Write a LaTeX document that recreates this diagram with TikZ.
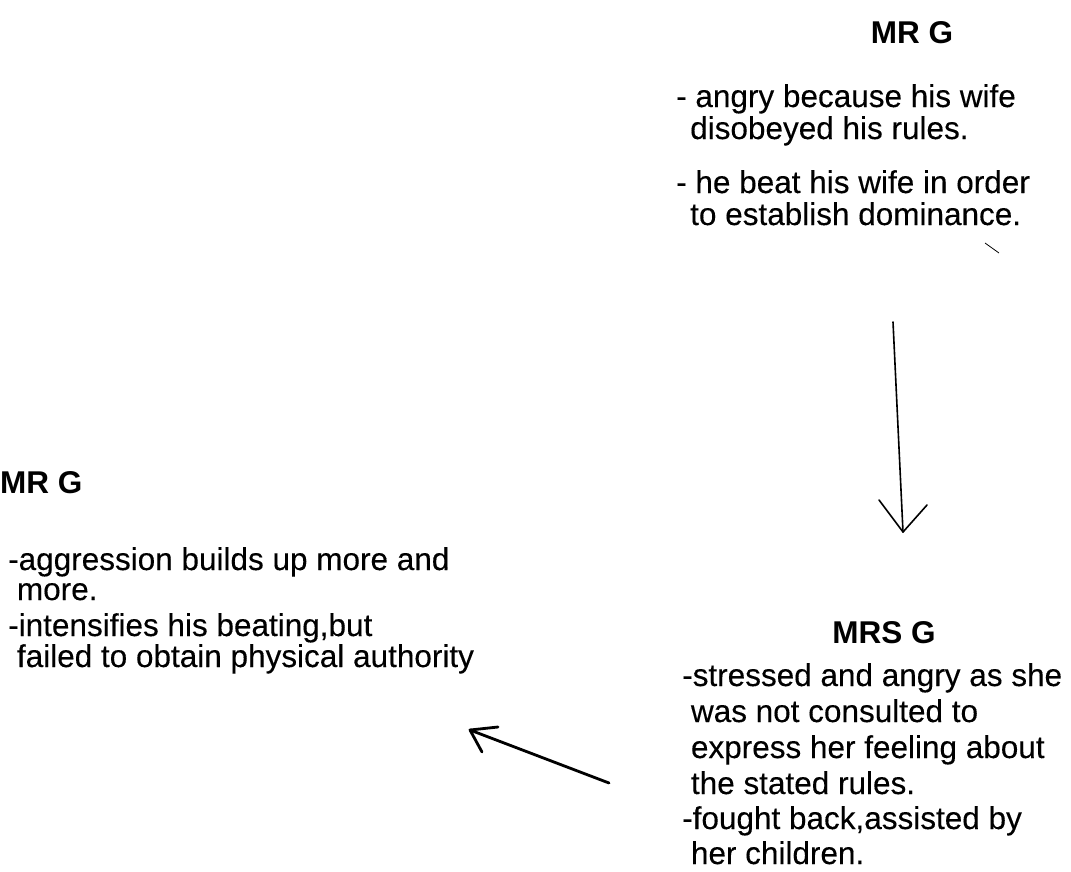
\documentclass[tikz,border=0pt]{standalone}
\usepackage{fontspec}
\setmainfont{Liberation Sans}[FakeBold=0.25]
\newfontfamily\ttlfont{Liberation Sans Bold}
\begin{document}
\begin{tikzpicture}[x=1pt,y=-1pt,
  txt/.style={anchor=base west,inner sep=0pt,font=\fontsize{31.5}{36}\selectfont},
  ttl/.style={anchor=base,inner sep=0pt,font=\fontsize{31.5}{36}\ttlfont},
  pen/.style={line width=1.6pt,line cap=round,line join=round},
  thickpen/.style={line width=2.8pt,line cap=round,line join=round}]
\useasboundingbox (0,0) rectangle (1071,871);
% top block
\node[ttl] (t0) at (912,43) {MR G};
\node[txt] (t1) at (676,107) {- angry because his wife};
\node[txt] (t2) at (676,139) {\ \,disobeyed his rules.};
\node[txt] (t3) at (676,193) {- he beat his wife in order};
\node[txt] (t4) at (676,225) {\ \,to establish dominance.};
% MRS G block
\node[ttl] (m0) at (884,643) {MRS G};
\node[txt] (m1) at (682,686) {-stressed and angry as she};
\node[txt] (m2) at (682,722) {\ was not consulted to};
\node[txt] (m3) at (682,758) {\ express her feeling about};
\node[txt] (m4) at (682,794) {\ the stated rules.};
\node[txt] (m5) at (682,829) {-fought back,assisted by};
\node[txt] (m6) at (682,864) {\ her children.};
% left block
\node[ttl,anchor=base west] (l0) at (0,493) {MR G};
\node[txt] (l1) at (8,570) {-aggression builds up more and};
\node[txt] (l2) at (8,600) {\ more.};
\node[txt] (l3) at (8,636) {-intensifies his beating,but};
\node[txt] (l4) at (8,667) {\ failed to obtain physical authority};
% arrows
\coordinate (a1s) at (893,322);
\coordinate (a1t) at (903,532);
\coordinate (a1l) at (879,500);
\coordinate (a1r) at (927,505);
\draw[pen] (a1s) -- (a1t);
\draw[pen] (a1l) -- (a1t) -- (a1r);
\coordinate (a2s) at (609,783);
\coordinate (a2t) at (470,730);
\coordinate (a2u) at (498,727);
\coordinate (a2d) at (482,752);
\draw[thickpen] (a2s) -- (a2t);
\draw[thickpen] (a2u) -- (a2t) -- (a2d);
% stray mark
\draw[line width=0.8pt] (985,243) -- (999,253);
\end{tikzpicture}
\end{document}
